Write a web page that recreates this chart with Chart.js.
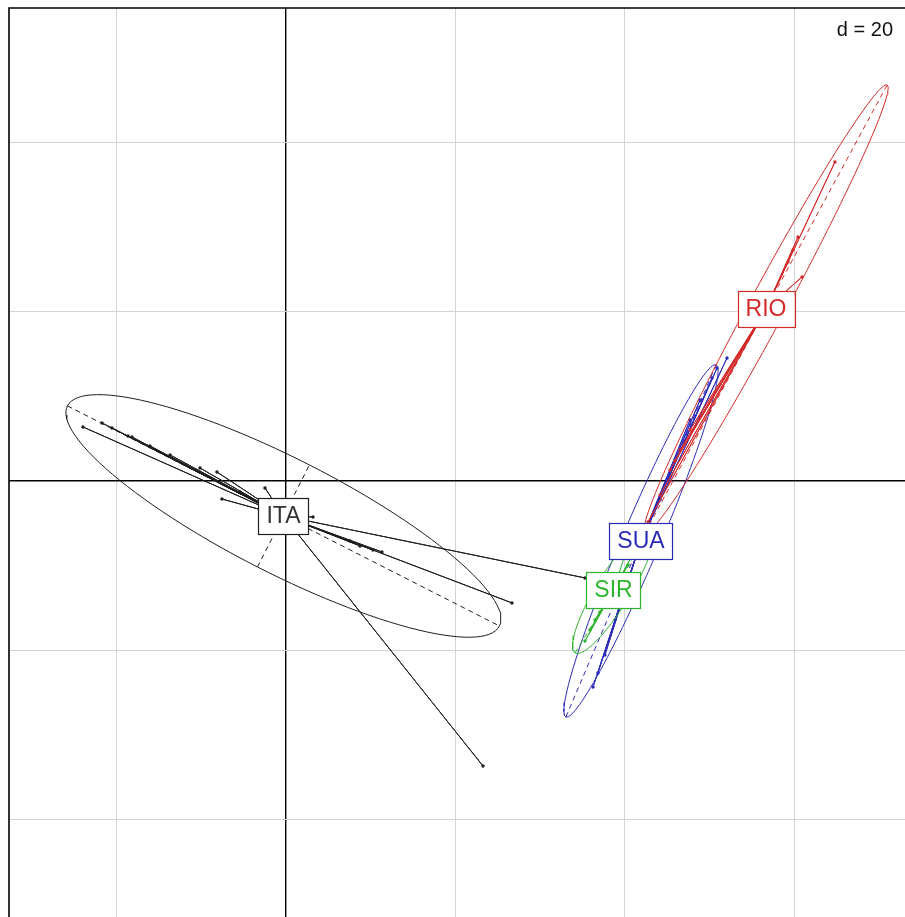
<!DOCTYPE html>
<html><head><meta charset="utf-8">
<script src="https://cdn.jsdelivr.net/npm/chart.js@4.4.1/dist/chart.umd.min.js"></script>
<style>html,body{margin:0;padding:0;background:#fff;overflow:hidden;width:905px;height:917px}#wrap{position:absolute;left:0;top:0;width:909px;height:921px}</style>
</head><body><div id="wrap"><canvas id="c"></canvas></div>
<script>
// ---- data ----
const classNames = ['ITA', 'RIO', 'SIR', 'SUA'];
const classColors = ['#1e1e1e', '#d42a2a', '#2db52d', '#2a2ab8'];
const centroidX = [-0.30, 56.67, 38.67, 41.91];
const centroidY = [-4.13, 20.31, -12.87, -7.08];

const itaX = [-23.97, -21.72, -20.54, -18.65, -18.18, -16.06, -13.69, -10.15, -8.15, -7.56, -2.48, -5.43, 3.19, 11.33, 10.27, 8.74, 26.68, 23.26, 35.30, 7.56];
const itaY = [6.38, 6.85, 6.26, 5.31, 5.19, 4.13, 3.07, 1.53, 1.06, -2.13, -0.83, -1.30, -4.25, -8.38, -8.15, -7.67, -14.40, -33.65, -11.45, -7.08];

const rioX = [64.81, 60.45, 59.86, 59.27, 60.92, 42.74, 44.16, 45.34, 46.52, 47.70, 45.90];
const rioY = [37.66, 28.81, 27.27, 25.86, 24.08, -4.84, -1.65, 1.30, 3.66, 6.02, 2.40];

const sirX = [35.30, 35.89, 36.48, 37.07, 40.38, 40.85, 40.02];
const sirY = [-18.90, -17.59, -16.41, -15.47, -9.92, -8.85, -8.74];

const suaX = [52.07, 50.89, 50.30, 48.88, 47.70, 36.25, 36.83, 37.66, 38.84, 44.16];
const suaY = [14.52, 13.34, 12.16, 9.56, 7.20, -24.32, -22.67, -20.54, -16.41, -2.24];

const ellipseA = [28.62, 30.06, 8.70, 22.59];     // semi-major
const ellipseB = [6.76, 2.13, 2.00, 2.24];        // semi-minor
const ellipseAngle = [-27.0, 61.6, 58.6, 66.9];   // degrees

const xTicks = [-20, 0, 20, 40, 60];
const yTicks = [-40, -20, 0, 20, 40];
const xRange = [-32.70, 73.08];
const yRange = [-51.48, 55.84];
const scaleLabel = 'd = 20';

// ---- build datasets ----
const classX = [itaX, rioX, sirX, suaX];
const classY = [itaY, rioY, sirY, suaY];
const datasets = [];
classNames.forEach((name, k) => {
  const col = classColors[k];
  const cx = centroidX[k], cy = centroidY[k];
  const th = ellipseAngle[k] * Math.PI / 180;
  const a = ellipseA[k], b = ellipseB[k];
  const ux = Math.cos(th), uy = Math.sin(th);
  const vx = -Math.sin(th), vy = Math.cos(th);
  const ell = [];
  for (let i = 0; i <= 120; i++) {
    const t = i / 120 * 2 * Math.PI;
    ell.push({x: cx + a * Math.cos(t) * ux + b * Math.sin(t) * vx,
              y: cy + a * Math.cos(t) * uy + b * Math.sin(t) * vy});
  }
  const lineBase = {type: 'line', showLine: true, pointRadius: 0, borderWidth: 1, tension: 0, fill: false, borderColor: col};
  datasets.push(Object.assign({}, lineBase, {data: ell}));
  datasets.push(Object.assign({}, lineBase, {borderDash: [5, 4], data: [{x: cx - a * ux, y: cy - a * uy}, {x: cx + a * ux, y: cy + a * uy}]}));
  datasets.push(Object.assign({}, lineBase, {borderDash: [5, 4], data: [{x: cx - b * vx, y: cy - b * vy}, {x: cx + b * vx, y: cy + b * vy}]}));
  const star = [];
  const pts = [];
  classX[k].forEach((x, i) => {
    star.push({x: cx, y: cy}, {x: x, y: classY[k][i]});
    pts.push({x: x, y: classY[k][i]});
  });
  datasets.push(Object.assign({}, lineBase, {data: star}));
  datasets.push({type: 'scatter', showLine: false, data: pts, pointRadius: 1.7, pointBorderWidth: 0,
                 pointBackgroundColor: col, borderColor: col});
});

const labelsPlugin = {
  id: 'labels',
  afterDatasetsDraw(chart) {
    const ctx = chart.ctx, xs = chart.scales.x, ys = chart.scales.y;
    ctx.save();
    ctx.font = '23px "Liberation Sans", Arial, sans-serif';
    ctx.textAlign = 'center';
    ctx.textBaseline = 'middle';
    classNames.forEach((name, k) => {
      const px = xs.getPixelForValue(centroidX[k]);
      const py = ys.getPixelForValue(centroidY[k]);
      const w = ctx.measureText(name).width + 16, h = 36;
      ctx.fillStyle = '#fff';
      ctx.fillRect(px - w / 2, py - h / 2, w, h);
      ctx.strokeStyle = classColors[k];
      ctx.lineWidth = 1.2;
      ctx.strokeRect(Math.round(px - w / 2) + 0.5, Math.round(py - h / 2) + 0.5, Math.round(w), h);
      ctx.fillStyle = k === 0 ? '#333' : classColors[k];
      ctx.fillText(name, px, py + 1);
    });
    // d = 20
    ctx.font = '20px "Liberation Sans", Arial, sans-serif';
    ctx.textAlign = 'right';
    ctx.fillStyle = '#111';
    ctx.fillText(scaleLabel, 893, 30);
    // frame (left and top visible)
    ctx.strokeStyle = '#000';
    ctx.lineWidth = 1.6;
    ctx.beginPath();
    ctx.moveTo(chart.chartArea.left, chart.chartArea.bottom + 2);
    ctx.lineTo(chart.chartArea.left, chart.chartArea.top);
    ctx.lineTo(chart.chartArea.right + 2, chart.chartArea.top);
    ctx.stroke();
    ctx.restore();
  }
};

const gridOpts = {
  drawTicks: false,
  color: c => (c.tick && c.tick.value === 0) ? '#000' : '#d4d4d4',
  lineWidth: c => (c.tick && c.tick.value === 0) ? 1.4 : 1
};

new Chart(document.getElementById('c'), {
  type: 'scatter',
  data: {datasets: datasets},
  options: {
    responsive: true, maintainAspectRatio: false, animation: false, events: [],
    layout: {padding: {left: 9, top: 8, right: 0, bottom: 0}},
    plugins: {legend: {display: false}, tooltip: {enabled: false}},
    scales: {
      x: {type: 'linear', min: xRange[0], max: xRange[1], ticks: {display: false}, border: {display: false}, grid: gridOpts,
          afterBuildTicks: s => { s.ticks = xTicks.map(v => ({value: v})); }},
      y: {type: 'linear', min: yRange[0], max: yRange[1], ticks: {display: false}, border: {display: false}, grid: gridOpts,
          afterBuildTicks: s => { s.ticks = yTicks.map(v => ({value: v})); }}
    }
  },
  plugins: [labelsPlugin]
});
</script></body></html>
